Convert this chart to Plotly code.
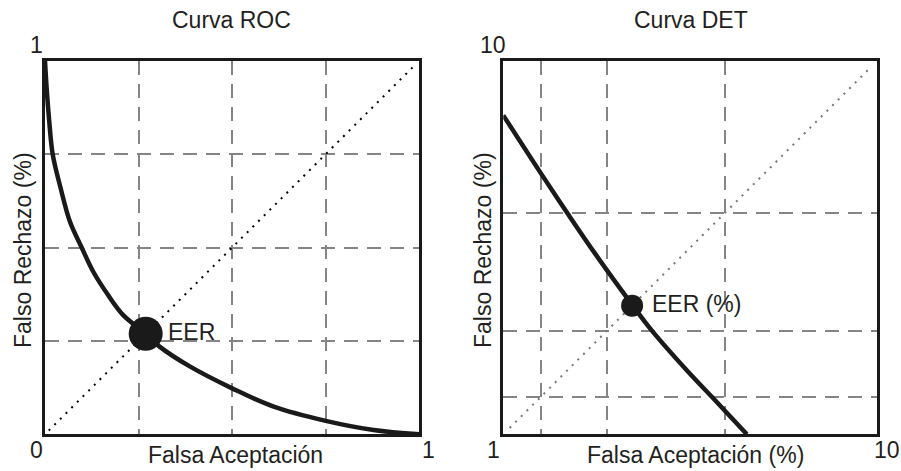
import plotly.graph_objects as go

# ROC curve (false acceptance vs false rejection, linear 0..1)
roc_fa = [0.0, 0.0045, 0.0115, 0.0205, 0.042, 0.067, 0.098, 0.129, 0.169, 0.209,
          0.268, 0.307, 0.388, 0.50, 0.611, 0.75, 0.878, 1.0]
roc_fr = [1.0, 0.925, 0.836, 0.75, 0.658, 0.568, 0.50, 0.435, 0.372, 0.319,
          0.270, 0.234, 0.181, 0.123, 0.074, 0.036, 0.0115, 0.0]
roc_eer = 0.269

# DET curve (percent, log axes 1..10)
det_fa = [1.0, 1.253, 1.486, 1.758, 2.205, 2.49, 3.12, 3.61, 4.48]
det_fr = [7.14, 5.04, 3.90, 3.05, 2.23, 1.90, 1.47, 1.26, 1.0]
det_eer = 2.21

roc_grid = [0.25, 0.5, 0.75]
det_grid = [1.26, 1.89, 3.91]

FONT = "Arial, Liberation Sans, sans-serif"
TEXT = "#231f20"
W, H = 901, 471

def px_x(p):
    return p / W

def px_y(p):
    return 1 - p / H

fig = go.Figure()

# ROC panel
fig.add_trace(go.Scatter(x=[0.01, 0.985], y=[0.01, 0.985], mode="lines",
                         line=dict(color="black", width=2, dash="2px,6px"),
                         xaxis="x", yaxis="y", hoverinfo="skip"))
fig.add_trace(go.Scatter(x=roc_fa, y=roc_fr, mode="lines",
                         line=dict(color="#1a1a1a", width=4.5, shape="spline", smoothing=1.0),
                         xaxis="x", yaxis="y"))
fig.add_trace(go.Scatter(x=[roc_eer], y=[roc_eer], mode="markers",
                         marker=dict(color="#1a1a1a", size=34),
                         xaxis="x", yaxis="y"))

# DET panel
fig.add_trace(go.Scatter(x=[1.04, 9.6], y=[1.04, 9.6], mode="lines",
                         line=dict(color="#777777", width=2, dash="2px,6px"),
                         xaxis="x2", yaxis="y2", hoverinfo="skip"))
fig.add_trace(go.Scatter(x=det_fa, y=det_fr, mode="lines",
                         line=dict(color="#1a1a1a", width=4.5, shape="spline", smoothing=1.0),
                         xaxis="x2", yaxis="y2"))
fig.add_trace(go.Scatter(x=[det_eer], y=[det_eer], mode="markers",
                         marker=dict(color="#1a1a1a", size=22),
                         xaxis="x2", yaxis="y2"))

grid_style = dict(showgrid=True, gridcolor="#858585", gridwidth=2, griddash="14px,9px",
                  showticklabels=False, ticks="", zeroline=False,
                  showline=True, linecolor="#1a1a1a", linewidth=3, mirror=True)

ydom = [px_y(434.3), px_y(60.7)]
fig.update_layout(
    width=W, height=H, margin=dict(l=0, r=0, t=0, b=0),
    paper_bgcolor="white", plot_bgcolor="white", showlegend=False,
    font=dict(family=FONT, size=23, color=TEXT),
    xaxis=dict(domain=[px_x(45), px_x(419.3)], range=[0, 1], tickvals=roc_grid, **grid_style),
    yaxis=dict(domain=ydom, range=[0, 1], tickvals=roc_grid, anchor="x", **grid_style),
    xaxis2=dict(domain=[px_x(503.3), px_x(877.3)], type="log", range=[0, 1],
                tickvals=det_grid, anchor="y2", **grid_style),
    yaxis2=dict(domain=ydom, type="log", range=[0, 1], tickvals=det_grid, anchor="x2", **grid_style),
)

def label(text, x, y, size=23, angle=0, xanchor="center"):
    fig.add_annotation(text=text, x=px_x(x), y=px_y(y), xref="paper", yref="paper",
                       showarrow=False, textangle=angle, xanchor=xanchor, yanchor="middle",
                       font=dict(family=FONT, size=size, color=TEXT))

# titles
label("Curva ROC", 232, 20)
label("Curva DET", 691, 20)
# axis titles
label("Falsa Aceptación", 235, 455)
label("Falso Rechazo (%)", 23, 250, angle=-90)
label("Falsa Aceptación (%)", 695, 455)
label("Falso Rechazo (%)", 483, 250, angle=-90)
# corner tick labels
label("1", 36, 45)
label("0", 36, 450)
label("1", 428, 450)
label("10", 493, 45)
label("1", 493, 450)
label("10", 887, 450)
# EER labels
label("EER", 166, 332, xanchor="left")
label("EER (%)", 650, 304, xanchor="left")

fig.write_html("out.html")
